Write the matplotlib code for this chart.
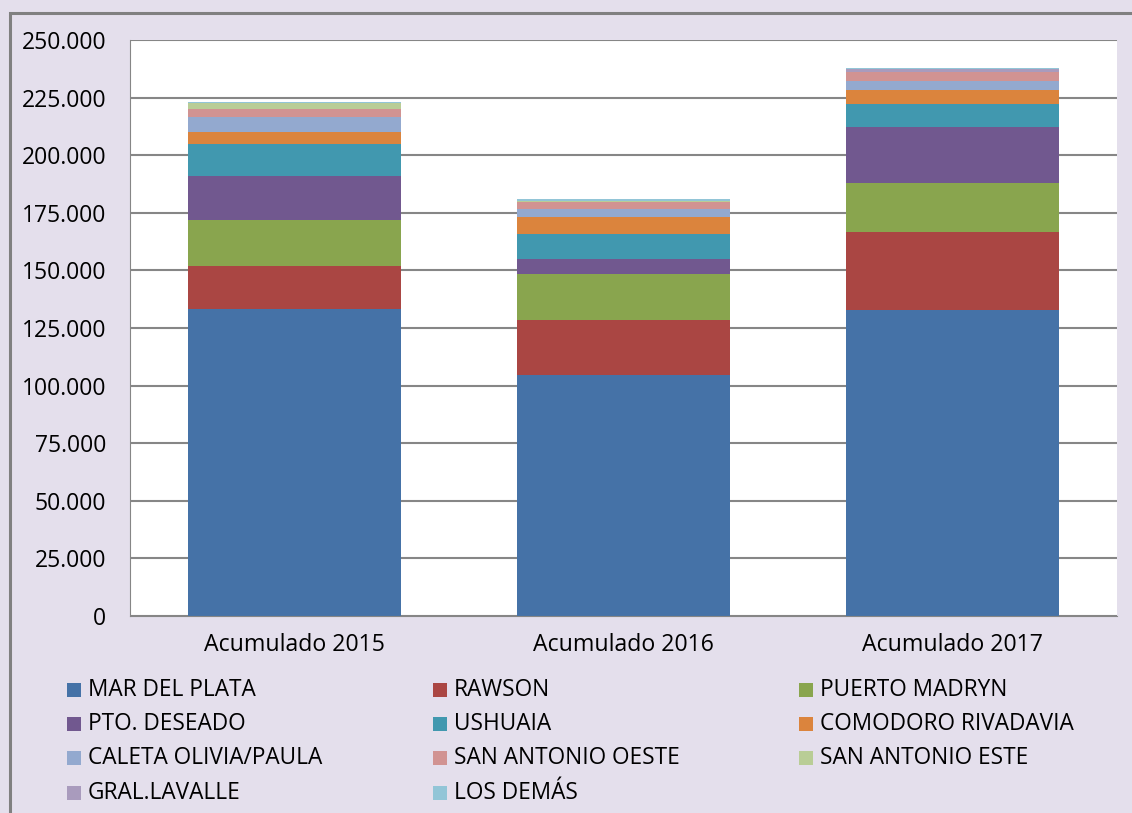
import numpy as np
import matplotlib.pyplot as plt
from matplotlib.patches import Rectangle
from matplotlib.ticker import FuncFormatter

plt.rcParams['font.family'] = ['Open Sans', 'DejaVu Sans']

years = ['Acumulado 2015', 'Acumulado 2016', 'Acumulado 2017']

ports = ['MAR DEL PLATA', 'RAWSON', 'PUERTO MADRYN',
         'PTO. DESEADO', 'USHUAIA', 'COMODORO RIVADAVIA',
         'CALETA OLIVIA/PAULA', 'SAN ANTONIO OESTE', 'SAN ANTONIO ESTE',
         'GRAL.LAVALLE', 'LOS DEMÁS']

# values per port, one per year
mar_del_plata = [133200, 104600, 133000]
rawson = [18700, 24000, 33800]
puerto_madryn = [19950, 19970, 21130]
pto_deseado = [19100, 6380, 24310]
ushuaia = [13900, 10980, 10120]
comodoro = [5340, 7250, 5940]
caleta_olivia = [6380, 3470, 3900]
sa_oeste = [3470, 3040, 3900]
sa_este = [2500, 400, 100]
gral_lavalle = [100, 200, 1300]
los_demas = [300, 700, 450]

series = [mar_del_plata, rawson, puerto_madryn, pto_deseado, ushuaia,
          comodoro, caleta_olivia, sa_oeste, sa_este, gral_lavalle, los_demas]

colors = ['#4572A7', '#AA4643', '#89A54E', '#71588F', '#4198AF', '#DB843D',
          '#93A9CF', '#D19392', '#B9CD96', '#A99BBD', '#92C5D7']

bg = '#E4DFEC'

fig = plt.figure(figsize=(11.32, 8.13), dpi=100, facecolor=bg)
# outer frame (right and bottom edges fall outside the picture)
fig.patches.append(Rectangle((9.5 / 1132, -0.05), 1.1, 1.05 - 13.5 / 813,
                             transform=fig.transFigure, fill=False,
                             edgecolor='#808080', linewidth=2.2))

ax = fig.add_axes([130 / 1132, 1 - 616 / 813, (1117 - 130) / 1132, 576 / 813])
ax.set_facecolor('white')

x = np.arange(len(years))
bottom = np.zeros(len(years))
for vals, c, name in zip(series, colors, ports):
    ax.bar(x, vals, width=0.65, bottom=bottom, color=c, label=name, zorder=2)
    bottom += np.array(vals)

ax.set_xlim(-0.5, len(years) - 0.5)
ax.set_ylim(0, 250000)
ax.set_yticks(np.arange(0, 250001, 25000))
ax.yaxis.set_major_formatter(FuncFormatter(lambda v, p: f'{int(v):,}'.replace(',', '.')))
ax.set_xticks(x)
ax.set_xticklabels(years)
ax.grid(axis='y', color='#868686', linewidth=1.5, zorder=0)
ax.tick_params(length=0, colors='black')
ax.tick_params(axis='y', pad=17, labelsize=16.5)
ax.tick_params(axis='x', pad=12, labelsize=16.7)
for s in ['top', 'right']:
    ax.spines[s].set_visible(False)
ax.spines['bottom'].set_color('#868686')
ax.spines['left'].set_color('#868686')
ax.spines['left'].set_linewidth(0.8)

# legend, three columns like the spreadsheet
col_x = [67, 433, 799]
row_y = [690, 724, 758, 793]
for i, (name, c) in enumerate(zip(ports, colors)):
    cx = col_x[i % 3]
    ry = row_y[i // 3]
    fig.patches.append(Rectangle((cx / 1132, 1 - (ry + 7) / 813), 14 / 1132, 14 / 813,
                                 transform=fig.transFigure, facecolor=c, edgecolor='none'))
    fig.text((cx + 21) / 1132, 1 - ry / 813, name, fontsize=16.3, va='center', ha='left')

fig.savefig('out.png', dpi=100, facecolor=bg)
